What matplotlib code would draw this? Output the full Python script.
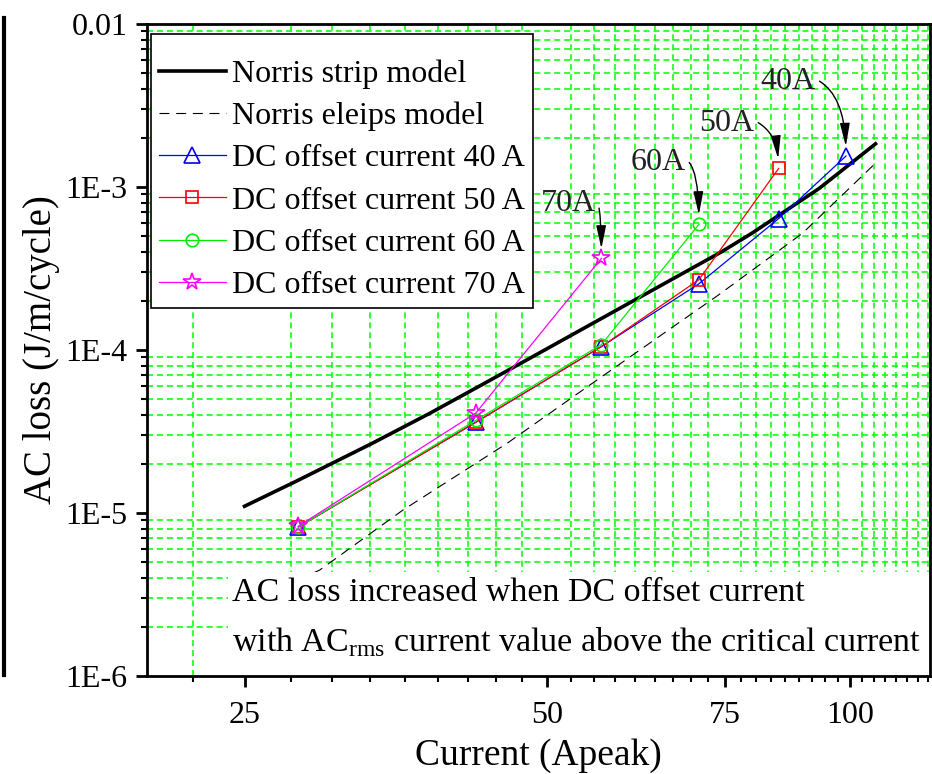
import numpy as np
import matplotlib
matplotlib.use("Agg")
import matplotlib.pyplot as plt
from matplotlib.ticker import FixedLocator, FixedFormatter, MultipleLocator, LogLocator, NullFormatter
from matplotlib.patches import Rectangle
from matplotlib.lines import Line2D

plt.rcParams['font.family'] = ['Liberation Serif', 'DejaVu Serif']
plt.rcParams['mathtext.fontset'] = 'custom'
plt.rcParams['mathtext.rm'] = 'Liberation Serif'

# ---- datos ----
# corriente pico (A) = sqrt(2) * Irms (20..70 A)
I_peak = [28.28, 42.43, 56.57, 70.71, 84.85, 98.99]

loss_40A = [8.2e-6, 3.6e-5, 1.05e-4, 2.55e-4, 6.4e-4, 1.55e-3]
loss_50A = [8.2e-6, 3.6e-5, 1.05e-4, 2.7e-4, 1.30e-3]
loss_60A = [8.2e-6, 3.7e-5, 1.08e-4, 5.9e-4]
loss_70A = [8.3e-6, 4.1e-5, 3.65e-4]

strip_I = [25.0, 28.1, 33.5, 38.2, 43.9, 46.7, 57.8, 74.5, 79.8, 93.1, 105.9]
strip_Q = [1.10e-5, 1.56e-5, 2.68e-5, 4.09e-5, 6.55e-5, 8.09e-5, 1.68e-4, 4.01e-4, 5.2e-4, 9.8e-4, 1.84e-3]

ellip_I = [28.28, 29.7, 35.9, 45.6, 54.8, 73.9, 89.6, 105.9]
ellip_Q = [3.9e-6, 4.47e-6, 1.04e-5, 2.68e-5, 5.96e-5, 2.17e-4, 5.2e-4, 1.40e-3]

xticks = [25, 50, 75, 100]
xticklabels = ['25', '50', '75', '100']
yticks = [1e-6, 1e-5, 1e-4, 1e-3, 1e-2]
yticklabels = ['1E-6', '1E-5', '1E-4', '1E-3', '0.01']

series = [
    ('DC offset current 40 A', loss_40A, '#0000FF', '^', 11, '40A'),
    ('DC offset current 50 A', loss_50A, '#FF0000', 's', 9, '50A'),
    ('DC offset current 60 A', loss_60A, '#00EE00', 'o', 9, '60A'),
    ('DC offset current 70 A', loss_70A, '#FF00FF', '*', 13, '70A'),
]
# desplazamiento (px) de las etiquetas de flecha respecto al último punto
label_offsets = {'40A': (-58, 74), '50A': (-52, 45), '60A': (-41, 62), '70A': (-33, 55)}

fig = plt.figure(figsize=(9.32, 7.74), dpi=100)
ax = fig.add_axes([0.1577, 0.1266, 0.8403, 0.8424])
ax.set_xscale('log')
ax.set_yscale('log')
ax.set_xlim(20, 120)
ax.set_ylim(1e-6, 1e-2)

ax.plot(strip_I, strip_Q, color='black', linewidth=2.6, label='Norris strip model', zorder=3)
ax.plot(ellip_I, ellip_Q, color='black', linewidth=0.8, linestyle=(0, (9, 6)),
        label='Norris eleips model', zorder=2)

for name, vals, col, mk, ms, tag in series:
    x = I_peak[:len(vals)]
    ax.plot(x, vals, color=col, linewidth=0.9, marker=mk, markersize=ms,
            markerfacecolor='none', markeredgecolor=col, markeredgewidth=1.2,
            label=name, zorder=4)
    ax.annotate(tag, xy=(x[-1], vals[-1]), xytext=label_offsets[tag],
                textcoords='offset pixels', fontsize=23, ha='center', va='center',
                color='#222222', zorder=8,
                arrowprops=dict(arrowstyle='-|>,head_length=1.4,head_width=0.3',
                                mutation_scale=10, color='black', lw=1.0,
                                relpos=(1.0, 0.6),
                                connectionstyle='angle3,angleA=-25,angleB=90',
                                shrinkA=1, shrinkB=7))

# ticks
ax.xaxis.set_major_locator(FixedLocator(xticks))
ax.xaxis.set_major_formatter(FixedFormatter(xticklabels))
ax.xaxis.set_minor_locator(MultipleLocator(25 / 9))
ax.xaxis.set_minor_formatter(NullFormatter())
ax.yaxis.set_major_locator(FixedLocator(yticks))
ax.yaxis.set_major_formatter(FixedFormatter(yticklabels))
ax.yaxis.set_minor_locator(LogLocator(base=10, subs=np.arange(2, 10)))
ax.yaxis.set_minor_formatter(NullFormatter())
ax.tick_params(which='major', direction='out', length=8, width=2, labelsize=23, pad=6)
ax.tick_params(which='minor', direction='out', length=4, width=1.5)
ax.tick_params(axis='x', which='major', pad=10)

ax.grid(which='minor', color='#00FF00', linestyle=(0, (4, 2.5)), linewidth=1.1)
ax.grid(which='major', visible=False)
ax.set_axisbelow(True)

for sp in ax.spines.values():
    sp.set_linewidth(2)

ax.set_xlabel('Current (Apeak)', fontsize=27, labelpad=6)
ax.set_ylabel('AC loss (J/m/cycle)', fontsize=28, labelpad=4)

# caja blanca de la nota inferior
ax.add_patch(Rectangle((0.1034, 0.0), 0.8966, 0.1595, transform=ax.transAxes,
                       facecolor='white', edgecolor='none', zorder=2.5))
ax.text(0.109, 0.128, 'AC loss increased when DC offset current',
        transform=ax.transAxes, fontsize=24.5, va='center', ha='left', zorder=5)
ax.text(0.109, 0.052, r'with AC$_{\mathregular{rms}}$ current value above the critical current',
        transform=ax.transAxes, fontsize=24.5, va='center', ha='left', zorder=5)

# título vacío pequeño para dar el margen superior de la leyenda de Origin
leg = ax.legend(loc='upper left', bbox_to_anchor=(0.005, 0.985), borderaxespad=0,
                fontsize=23, frameon=True, fancybox=False, edgecolor='black',
                framealpha=1, handlelength=2.1, handletextpad=0.2,
                labelspacing=0.4, borderpad=0.25, title=' ', title_fontsize=5)
leg.get_frame().set_linewidth(1.2)
leg.set_zorder(7)

# línea negra vertical en el borde izquierdo de la imagen
fig.add_artist(Line2D([0.004, 0.004], [0.128, 0.977], color='black', linewidth=3,
                      transform=fig.transFigure))

fig.savefig('out.png', dpi=100)
